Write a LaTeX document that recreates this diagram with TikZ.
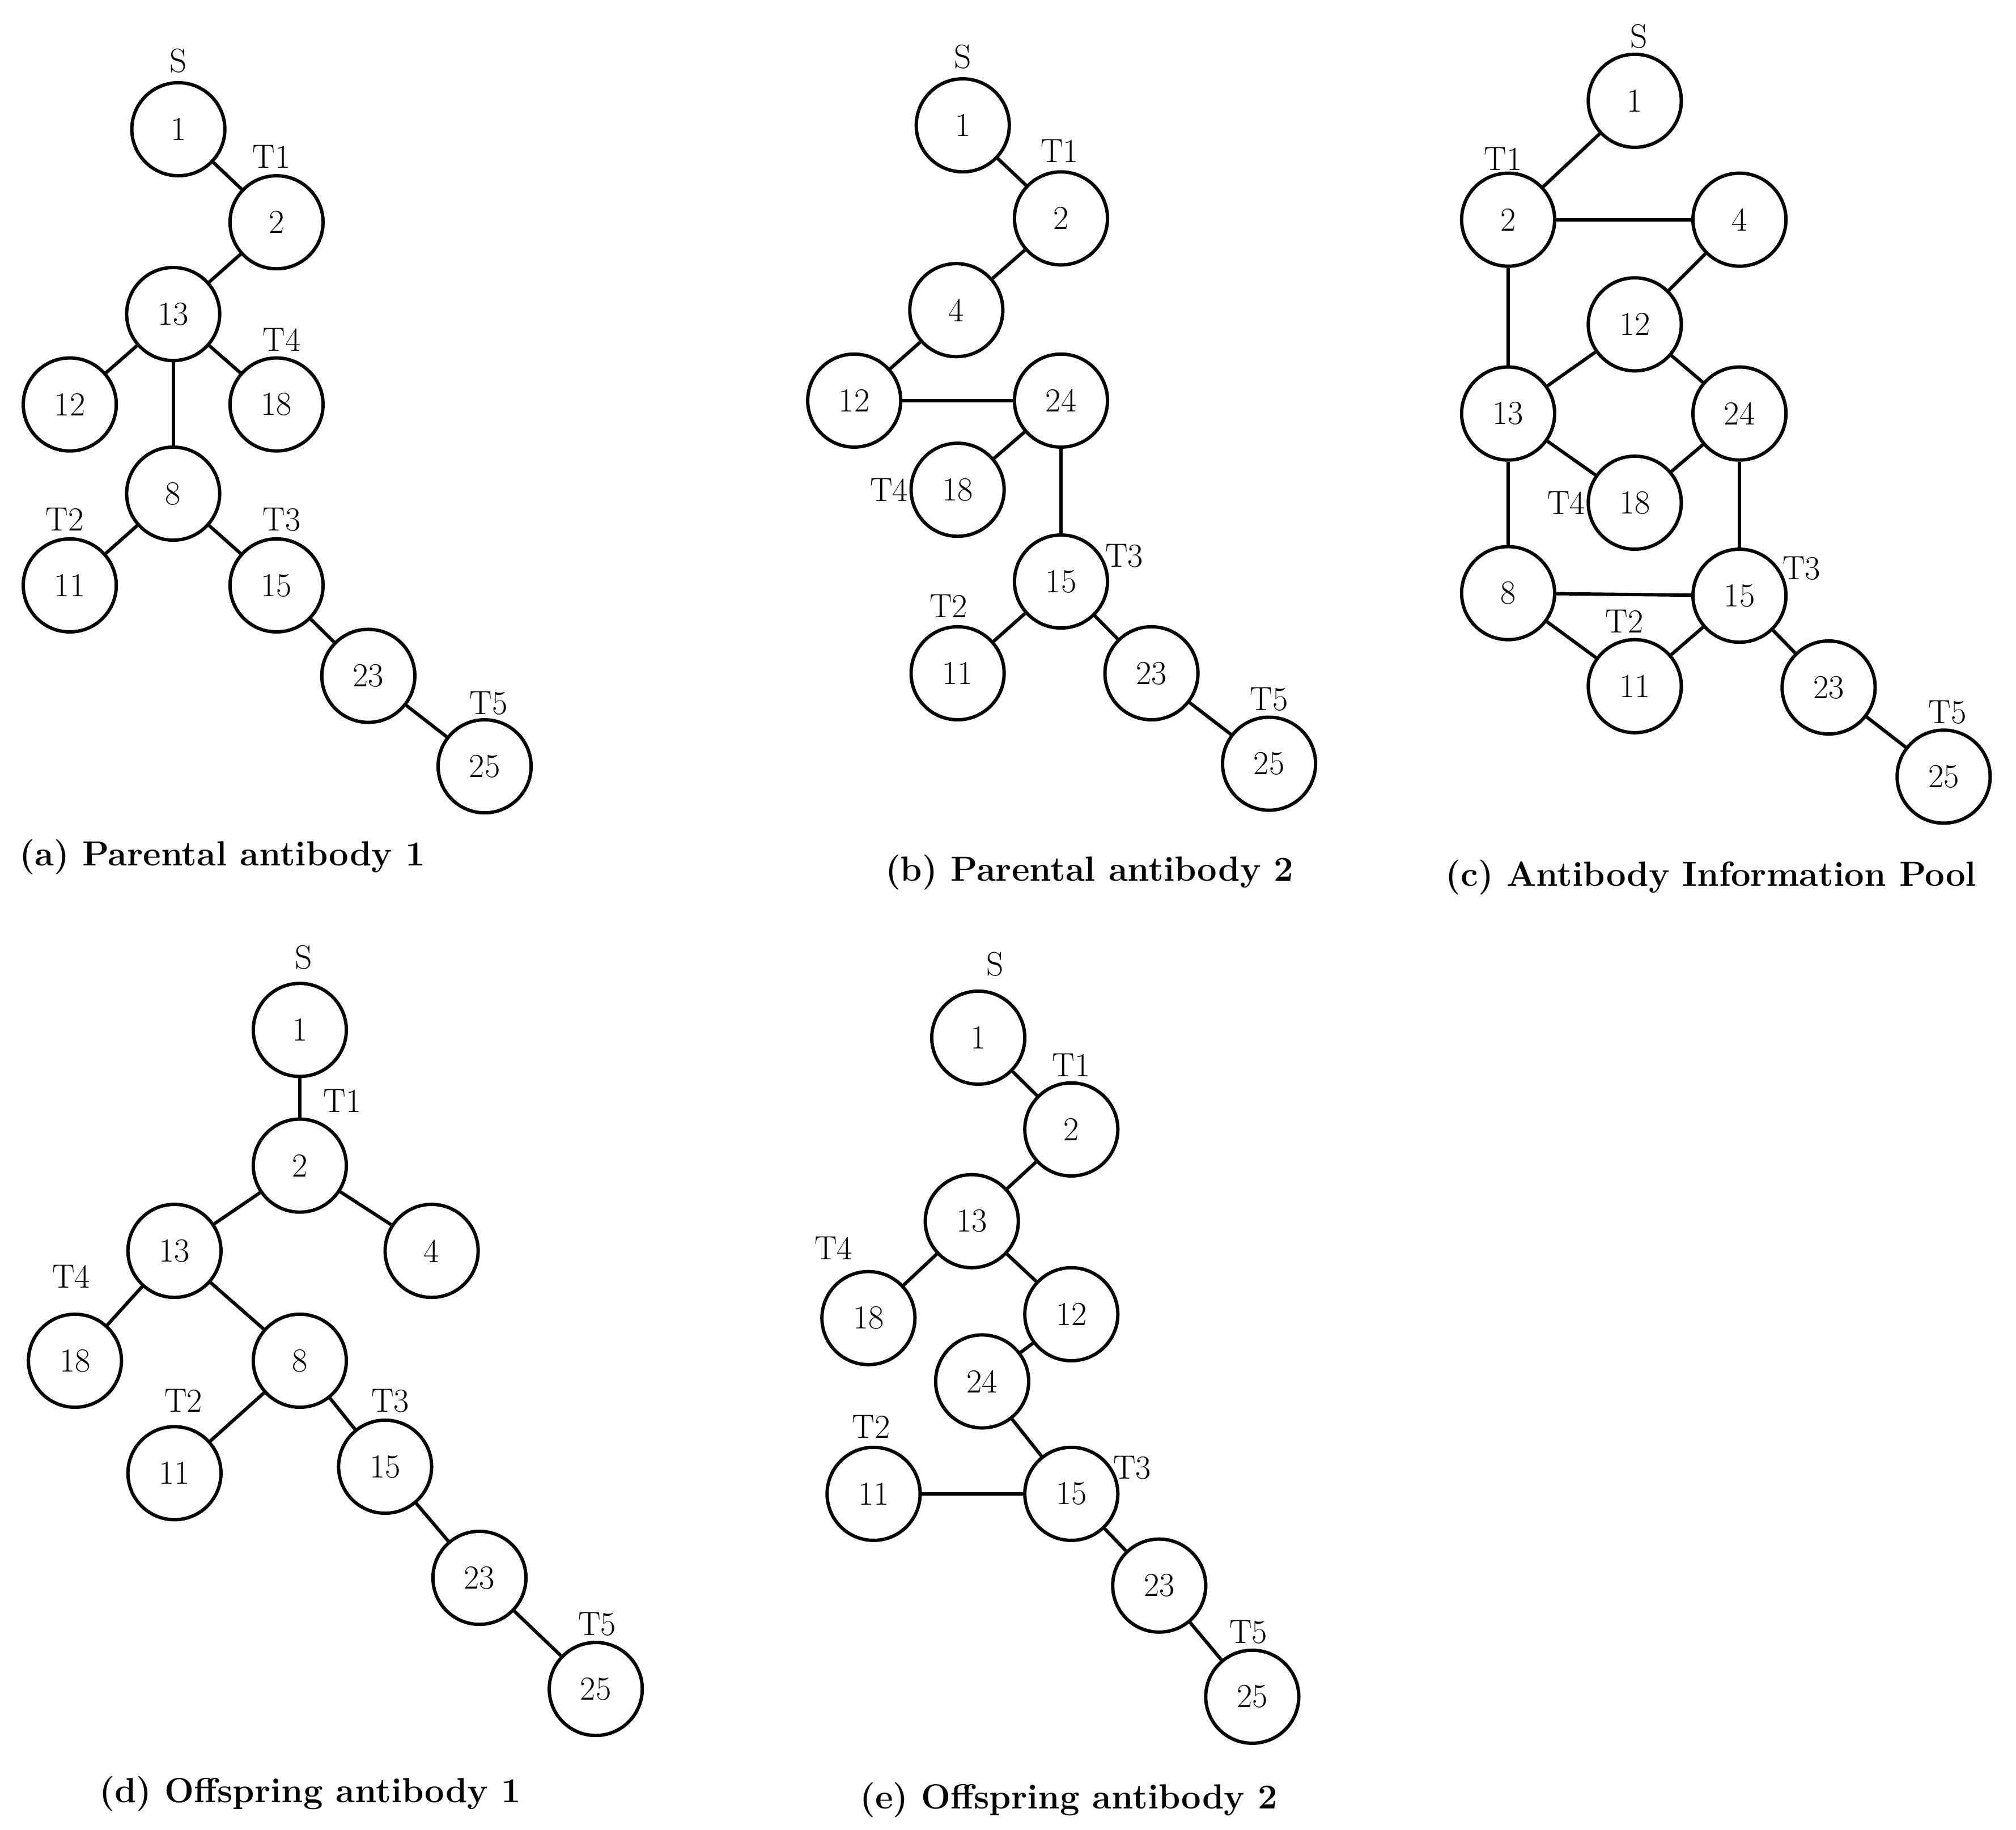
\documentclass[tikz,border=0pt]{standalone}
\usepackage{tikz}
\begin{document}
\begin{tikzpicture}[x=1pt, y=-1pt, line width=2.6pt,
  vtx/.style={circle, draw=black, line width=2.6pt, minimum size=72pt, inner sep=0pt, node font=\fontsize{26}{28}\selectfont},
  tag/.style={node font=\fontsize{26}{28}\selectfont},
  caption/.style={node font=\fontsize{27}{30}\selectfont\bfseries}]
\useasboundingbox (0,0) rectangle (1560,1416);

% (a) Parental antibody 1
\node [vtx] (a1) at (138,100){1};
\node [vtx] (a2) at (214,172){2};
\node [vtx] (a13) at (134,243){13};
\node [vtx] (a12) at (54,313){12};
\node [vtx] (a18) at (214,313){18};
\node [vtx] (a8) at (134,382){8};
\node [vtx] (a11) at (54,453){11};
\node [vtx] (a15) at (214,453){15};
\node [vtx] (a23) at (285,523){23};
\node [vtx] (a25) at (375,593){25};
\node [tag] at (138,47){S};
\node [tag] at (210,121){T1};
\node [tag] at (218,263){T4};
\node [tag] at (50,402){T2};
\node [tag] at (218,402){T3};
\node [tag] at (378,544){T5};
\node [caption] at (172,663){(a) Parental antibody 1};
\foreach \p/\q in {1/2,2/13,13/12,13/18,13/8,8/11,8/15,15/23,23/25}
  \draw (a\p) -- (a\q);

% (b) Parental antibody 2
\node [vtx] (b1) at (745,97){1};
\node [vtx] (b2) at (821,169){2};
\node [vtx] (b4) at (740,240){4};
\node [vtx] (b12) at (661,310){12};
\node [vtx] (b24) at (821,310){24};
\node [vtx] (b18) at (741,379){18};
\node [vtx] (b15) at (821,450){15};
\node [vtx] (b11) at (741,521){11};
\node [vtx] (b23) at (891,521){23};
\node [vtx] (b25) at (982,591){25};
\node [tag] at (745,44){S};
\node [tag] at (820,117){T1};
\node [tag] at (688,379){T4};
\node [tag] at (870,430){T3};
\node [tag] at (734,469){T2};
\node [tag] at (982,541){T5};
\node [caption] at (843,675){(b) Parental antibody 2};
\foreach \p/\q in {1/2,2/4,4/12,12/24,24/18,24/15,15/11,15/23,23/25}
  \draw (b\p) -- (b\q);

% (c) Antibody Information Pool
\node [vtx] (c1) at (1265,78){1};
\node [vtx] (c2) at (1167,170){2};
\node [vtx] (c4) at (1346,170){4};
\node [vtx] (c12) at (1265,251){12};
\node [vtx] (c13) at (1167,320){13};
\node [vtx] (c24) at (1346,320){24};
\node [vtx] (c18) at (1265,389){18};
\node [vtx] (c8) at (1167,459){8};
\node [vtx] (c15) at (1346,461){15};
\node [vtx] (c11) at (1265,531){11};
\node [vtx] (c23) at (1415,532){23};
\node [vtx] (c25) at (1504,601){25};
\node [tag] at (1268,28){S};
\node [tag] at (1163,123){T1};
\node [tag] at (1212,389){T4};
\node [tag] at (1394,440){T3};
\node [tag] at (1257,481){T2};
\node [tag] at (1507,551){T5};
\node [caption] at (1324,679){(c) Antibody Information Pool};
\foreach \p/\q in {1/2,2/4,2/13,4/12,12/13,12/24,13/18,18/24,13/8,24/15,8/15,8/11,11/15,15/23,23/25}
  \draw (c\p) -- (c\q);

% (d) Offspring antibody 1
\node [vtx] (d1) at (232,797){1};
\node [vtx] (d2) at (232,902){2};
\node [vtx] (d13) at (135,968){13};
\node [vtx] (d4) at (334,968){4};
\node [vtx] (d18) at (58,1053){18};
\node [vtx] (d8) at (232,1053){8};
\node [vtx] (d11) at (135,1140){11};
\node [vtx] (d15) at (298,1135){15};
\node [vtx] (d23) at (371,1221){23};
\node [vtx] (d25) at (461,1307){25};
\node [tag] at (235,741){S};
\node [tag] at (265,852){T1};
\node [tag] at (55,988){T4};
\node [tag] at (142,1084){T2};
\node [tag] at (302,1084){T3};
\node [tag] at (462,1257){T5};
\node [caption] at (240,1388){(d) Offspring antibody 1};
\foreach \p/\q in {1/2,2/13,2/4,13/18,13/8,8/11,8/15,15/23,23/25}
  \draw (d\p) -- (d\q);

% (e) Offspring antibody 2
\node [vtx] (e1) at (757,803){1};
\node [vtx] (e2) at (829,874){2};
\node [vtx] (e13) at (752,945){13};
\node [vtx] (e18) at (672,1020){18};
\node [vtx] (e12) at (829,1017){12};
\node [vtx] (e24) at (760,1069){24};
\node [vtx] (e11) at (676,1156){11};
\node [vtx] (e15) at (829,1156){15};
\node [vtx] (e23) at (897,1227){23};
\node [vtx] (e25) at (969,1313){25};
\node [tag] at (770,746){S};
\node [tag] at (829,824){T1};
\node [tag] at (645,966){T4};
\node [tag] at (674,1104){T2};
\node [tag] at (876,1136){T3};
\node [tag] at (966,1263){T5};
\node [caption] at (827,1393){(e) Offspring antibody 2};
\foreach \p/\q in {1/2,2/13,13/18,13/12,12/24,24/15,11/15,15/23,23/25}
  \draw (e\p) -- (e\q);

\end{tikzpicture}
\end{document}
